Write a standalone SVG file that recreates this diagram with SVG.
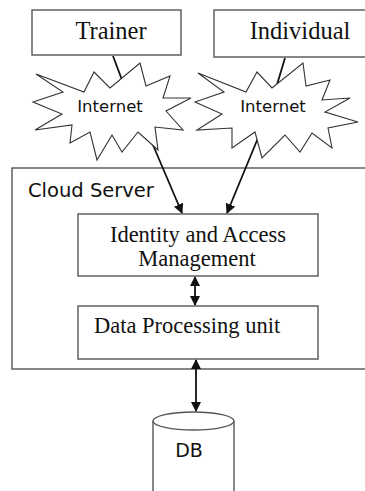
<svg xmlns="http://www.w3.org/2000/svg" width="365" height="491" viewBox="0 0 365 491">
<style>
.box{fill:#fff;stroke:#555;stroke-width:1.4}
.star{fill:#fff;stroke:#333;stroke-width:1.1;stroke-linejoin:miter}
.serif{font-family:"Liberation Serif","Times New Roman",serif;font-size:22.5px;fill:#111}
.big{font-size:24.5px}
.sans{font-family:"DejaVu Sans","Liberation Sans",sans-serif;fill:#111}
.conn{stroke:#111;stroke-width:1.8;fill:none}
</style>
<defs>
<marker id="ah" markerWidth="10" markerHeight="10" refX="9" refY="5" orient="auto" markerUnits="userSpaceOnUse">
<path d="M0,0 L10,5 L0,10 z" fill="#111"/>
</marker>
<marker id="as" markerWidth="10" markerHeight="10" refX="1" refY="5" orient="auto" markerUnits="userSpaceOnUse">
<path d="M10,0 L0,5 L10,10 z" fill="#111"/>
</marker>
</defs>
<rect width="365" height="491" fill="#fff"/>
<g id="cloud-server">
<rect class="box" x="12" y="168" width="360" height="201"/>
<text class="sans" x="28" y="197" font-size="19.5">Cloud Server</text>
</g>
<g id="trainer">
<rect class="box" x="32" y="10" width="149" height="45"/>
<text class="serif big" x="111" y="39" text-anchor="middle">Trainer</text>
</g>
<g id="individual">
<rect class="box" x="214" y="10" width="160" height="47"/>
<text class="serif big" x="300" y="39" text-anchor="middle">Individual</text>
</g>
<g id="connectors">
<line class="conn" x1="113" y1="56" x2="122" y2="80" stroke-width="1.5"/>
<line class="conn" x1="285" y1="58" x2="276" y2="88" stroke-width="1.5"/>
<line class="conn" x1="147" y1="131" x2="182" y2="213" marker-end="url(#ah)"/>
<line class="conn" x1="258" y1="138" x2="227" y2="213" marker-end="url(#ah)"/>
<line class="conn" x1="195" y1="277" x2="195" y2="305" marker-start="url(#as)" marker-end="url(#ah)"/>
<line class="conn" x1="196" y1="360" x2="196" y2="411" marker-start="url(#as)" marker-end="url(#ah)"/>
</g>
<g id="internet-1">
<polygon class="star" points="36,74 84,92 94,72 110,88 140,63 146,86 170,76 163,98 191,98 166,111 183,130 155,127 158,150 138,132 122,152 112,135 97,160 90,132 70,143 72,125 35,130 62,114 33,102 63,92"/>
<text class="sans" x="110" y="112" font-size="16.5" text-anchor="middle">Internet</text>
</g>
<g id="internet-2">
<polygon class="star" points="198,73 246,92 257,72 272,88 303,63 306,86 330,80 322,100 350,98 325,112 358,122 328,128 332,148 312,133 300,152 285,135 262,158 255,132 232,148 232,128 197,130 222,114 195,102 224,92"/>
<text class="sans" x="273" y="112" font-size="16.5" text-anchor="middle">Internet</text>
</g>
<g id="iam">
<rect class="box" x="78" y="214" width="240" height="62"/>
<text class="serif" x="198" y="242" text-anchor="middle">Identity and Access</text>
<text class="serif" x="197" y="266" text-anchor="middle">Management</text>
</g>
<g id="dpu">
<rect class="box" x="78" y="306" width="240" height="53"/>
<text class="serif" x="94" y="333">Data Processing unit</text>
</g>
<g id="db">
<path class="box" d="M153,421 L153,500 L234,500 L234,421"/>
<ellipse class="box" cx="193.5" cy="421" rx="40.5" ry="9"/>
<text class="sans" x="189" y="457" font-size="19" text-anchor="middle">DB</text>
</g>
</svg>
